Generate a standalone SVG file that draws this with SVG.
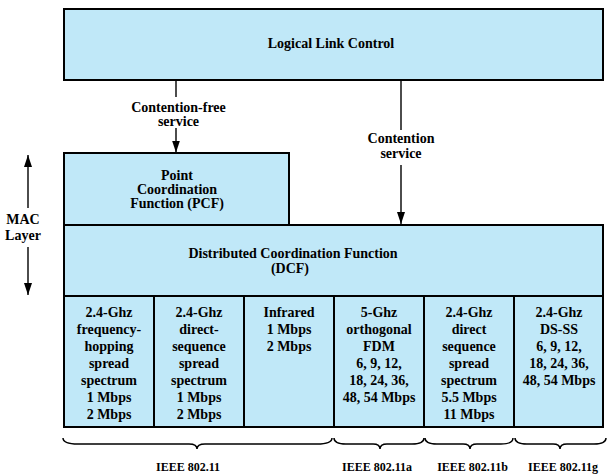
<svg xmlns="http://www.w3.org/2000/svg" width="610" height="475" viewBox="0 0 610 475">
<style>
.box{fill:#C0E8F8;stroke:#000;stroke-width:2}
.div{stroke:#000;stroke-width:2;fill:none}
.t{font-family:"Liberation Serif","Times New Roman",serif;font-weight:bold;font-size:14px;fill:#000;text-anchor:middle}
.s{font-size:12px}
.ln{stroke:#000;stroke-width:1.4;fill:none}
.br{stroke:#000;stroke-width:1.5;fill:none}
</style>
<defs>
<marker id="ah" markerWidth="12" markerHeight="8" refX="12" refY="4" orient="auto" markerUnits="userSpaceOnUse" viewBox="0 0 12 8">
<path d="M0,0 L12,4 L0,8 Z" fill="#000"/>
</marker>
</defs>
<rect width="610" height="475" fill="#fff"/>

<g id="llc">
<rect class="box" x="64" y="9" width="539" height="71"/>
<text class="t" x="331" y="48">Logical Link Control</text>
</g>

<g id="pcf">
<rect class="box" x="64" y="153" width="225" height="72"/>
<text class="t" x="177" y="180">Point</text>
<text class="t" x="177" y="194">Coordination</text>
<text class="t" x="177" y="208">Function (PCF)</text>
</g>

<g id="dcf">
<rect class="box" x="64" y="225" width="539" height="71"/>
<text class="t" x="293" y="258">Distributed Coordination Function</text>
<text class="t" x="290" y="273">(DCF)</text>
</g>

<g id="phy">
<rect class="box" x="64" y="296" width="539" height="131"/>
<path class="div" d="M154,296V427M244,296V427M334,296V427M424,296V427M514,296V427"/>
</g>

<g id="fhss">
<text class="t" x="109" y="316.5">2.4-Ghz</text>
<text class="t" x="109" y="333.5">frequency-</text>
<text class="t" x="109" y="350.5">hopping</text>
<text class="t" x="109" y="367.5">spread</text>
<text class="t" x="109" y="384.5">spectrum</text>
<text class="t" x="109" y="401.5">1 Mbps</text>
<text class="t" x="109" y="418.5">2 Mbps</text>
</g>

<g id="dsss">
<text class="t" x="199" y="316.5">2.4-Ghz</text>
<text class="t" x="199" y="333.5">direct-</text>
<text class="t" x="199" y="350.5">sequence</text>
<text class="t" x="199" y="367.5">spread</text>
<text class="t" x="199" y="384.5">spectrum</text>
<text class="t" x="199" y="401.5">1 Mbps</text>
<text class="t" x="199" y="418.5">2 Mbps</text>
</g>

<g id="infrared">
<text class="t" x="289" y="316.5">Infrared</text>
<text class="t" x="289" y="333.5">1 Mbps</text>
<text class="t" x="289" y="350.5">2 Mbps</text>
</g>

<g id="ofdm">
<text class="t" x="379" y="316.5">5-Ghz</text>
<text class="t" x="379" y="333.5">orthogonal</text>
<text class="t" x="379" y="350.5">FDM</text>
<text class="t" x="379" y="367.5">6, 9, 12,</text>
<text class="t" x="379" y="384.5">18, 24, 36,</text>
<text class="t" x="379" y="401.5">48, 54 Mbps</text>
</g>

<g id="dsss-b">
<text class="t" x="469" y="316.5">2.4-Ghz</text>
<text class="t" x="469" y="333.5">direct</text>
<text class="t" x="469" y="350.5">sequence</text>
<text class="t" x="469" y="367.5">spread</text>
<text class="t" x="469" y="384.5">spectrum</text>
<text class="t" x="469" y="401.5">5.5 Mbps</text>
<text class="t" x="469" y="418.5">11 Mbps</text>
</g>

<g id="dsss-g">
<text class="t" x="559" y="316.5">2.4-Ghz</text>
<text class="t" x="559" y="333.5">DS-SS</text>
<text class="t" x="559" y="350.5">6, 9, 12,</text>
<text class="t" x="559" y="367.5">18, 24, 36,</text>
<text class="t" x="559" y="384.5">48, 54 Mbps</text>
</g>

<g id="mac-layer">
<line class="ln" x1="28" y1="208" x2="28" y2="155" marker-end="url(#ah)"/>
<line class="ln" x1="28" y1="247" x2="28" y2="295" marker-end="url(#ah)"/>
<text class="t" x="23" y="224">MAC</text>
<text class="t" x="23" y="240">Layer</text>
</g>

<g id="connectors">
<line class="ln" x1="176" y1="80" x2="176" y2="97"/>
<line class="ln" x1="176" y1="128" x2="176" y2="152.5" marker-end="url(#ah)"/>
<text class="t" x="178.5" y="112">Contention-free</text>
<text class="t" x="178.5" y="126">service</text>
<line class="ln" x1="401" y1="80" x2="401" y2="130"/>
<line class="ln" x1="401" y1="165" x2="401" y2="224" marker-end="url(#ah)"/>
<text class="t" x="401" y="143">Contention</text>
<text class="t" x="401" y="158">service</text>
</g>

<g id="braces">
<path class="br" d="M63,438 Q63,444 78,444 L189,444 Q197,444 197,449 Q197,444 205,444 L317,444 Q332,444 332,438"/>
<path class="br" d="M334,438 Q334,444 346,444 L373,444 Q380,444 380,449 Q380,444 387,444 L412,444 Q424,444 424,438"/>
<path class="br" d="M425,438 Q425,444 437,444 L463,444 Q470,444 470,449 Q470,444 477,444 L501,444 Q513,444 513,438"/>
<path class="br" d="M515,438 Q515,444 527,444 L553,444 Q560,444 560,449 Q560,444 567,444 L594,444 Q606,444 606,438"/>
</g>

<g id="labels">
<text class="t s" x="188" y="471">IEEE 802.11</text>
<text class="t s" x="377" y="471">IEEE 802.11a</text>
<text class="t s" x="472.5" y="471">IEEE 802.11b</text>
<text class="t s" x="563" y="471">IEEE 802.11g</text>
</g>
</svg>
